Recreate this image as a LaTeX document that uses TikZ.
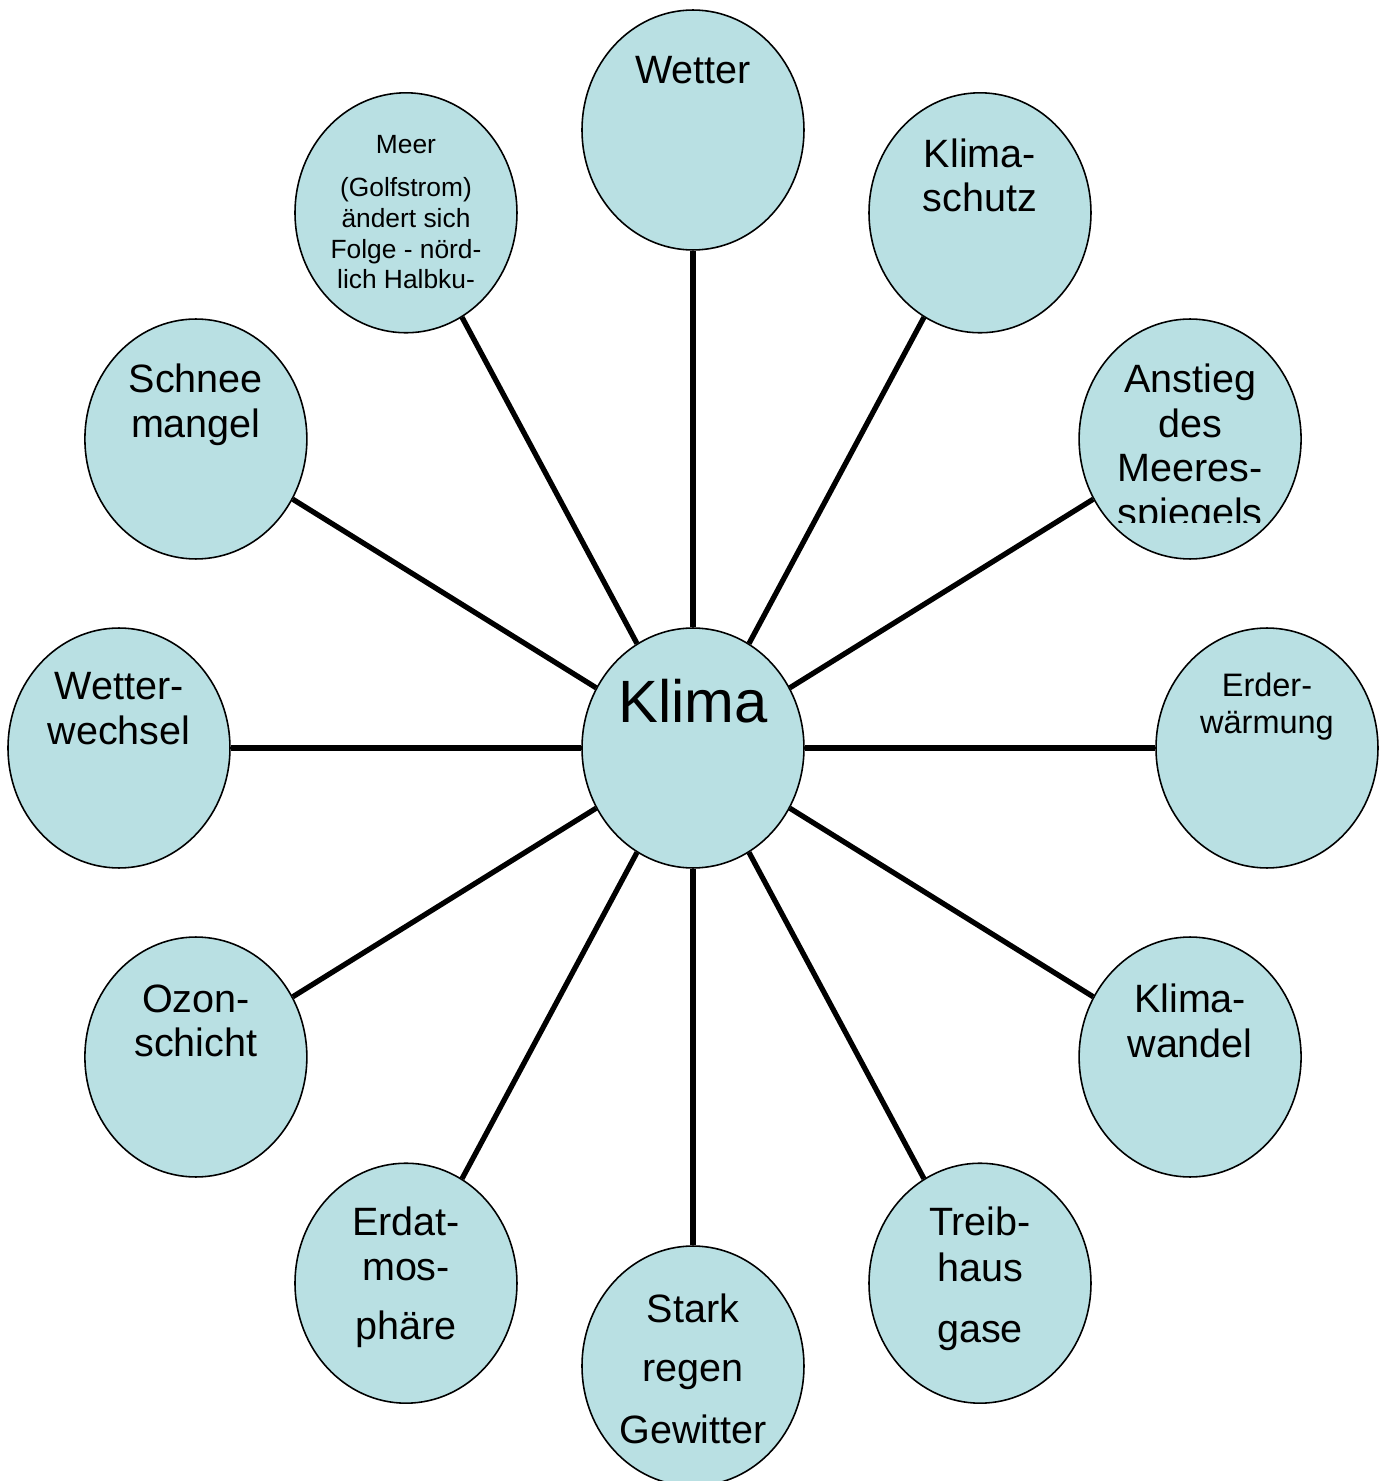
\documentclass[tikz,border=0pt]{standalone}
\usepackage{fontspec}
\setmainfont{Liberation Sans}
\usetikzlibrary{positioning}
\usetikzlibrary{shapes.geometric}
\usepackage{xcolor}
\definecolor{bubble}{RGB}{185,224,227}
\pgfkeys{tikz/mybubble/.style={ellipse,draw,line width=0.9pt,fill=bubble,minimum width=4.44cm,minimum height=4.8cm,inner sep=0pt}}
\pgfkeys{tikz/mytext/.style={align=center,inner sep=0pt,font=\fontsize{22.5}{25.5}\selectfont}}
\pgfkeys{tikz/myspoke/.style={line width=3pt}}

\begin{document}
\begin{tikzpicture}[x=0.02cm,y=0.02cm]
	\useasboundingbox (-693,-733) rectangle (693,748);

	\node [mybubble] (klima) at (0,0) {};
	\node [mytext, font=\fontsize{34}{39}\selectfont, below=1.04cm of klima.north] (klimaT) {Klima};

	\node [mybubble] (wetter) at (90:574 and 618) {};
	\node [mytext, below=0.94cm of wetter.north] (wetterT) {Wetter};

	\node [mybubble] (schutz) at (60:574 and 618) {};
	\node [mytext, below=0.92cm of schutz.north] (schutzT) {Klima-\\schutz};

	\node [mybubble] (anstieg) at (30:574 and 618) {};
	\begin{scope}
		\clip (anstieg.north west) rectangle ([yshift=-1.68cm]anstieg.east);
		\node [mytext, below=0.9cm of anstieg.north] (anstiegT) {Anstieg\\des\\Meeres-\\spiegels};
	\end{scope}

	\node [mybubble] (erder) at (0:574 and 618) {};
	\node [mytext, font=\fontsize{18.5}{21.5}\selectfont, below=0.9cm of erder.north] (erderT) {Erder-\\wärmung};

	\node [mybubble] (wandel) at (-30:574 and 618) {};
	\node [mytext, below=0.94cm of wandel.north] (wandelT) {Klima-\\wandel};

	\node [mybubble] (treib) at (-60:574 and 618) {};
	\node [mytext, below=0.88cm of treib.north] (treibT) {Treib-\\[1pt]haus\\[9pt]gase};

	\node [mybubble] (stark) at (-90:574 and 618) {};
	\node [mytext, below=0.96cm of stark.north] (starkT) {Stark\\[8.5pt]regen\\[9.5pt]Gewitter};

	\node [mybubble] (erdat) at (-120:574 and 618) {};
	\node [mytext, below=0.88cm of erdat.north] (erdatT) {Erdat-\\mos-\\[8pt]phäre};

	\node [mybubble] (ozon) at (-150:574 and 618) {};
	\node [mytext, below=0.96cm of ozon.north] (ozonT) {Ozon-\\schicht};

	\node [mybubble] (wechsel) at (180:574 and 618) {};
	\node [mytext, below=0.9cm of wechsel.north] (wechselT) {Wetter-\\wechsel};

	\node [mybubble] (schnee) at (150:574 and 618) {};
	\node [mytext, below=0.9cm of schnee.north] (schneeT) {Schnee\\mangel};

	\node [mybubble] (meer) at (120:574 and 618) {};
	\node [mytext, font=\fontsize{15}{17.5}\selectfont, below=0.86cm of meer.north] (meerT) {Meer\\[7pt](Golfstrom)\\ändert sich\\Folge - nörd-\\lich Halbku-};

	\draw[myspoke] (klima) -- (wetter);
	\draw[myspoke] (klima) -- (schutz);
	\draw[myspoke] (klima) -- (anstieg);
	\draw[myspoke] (klima) -- (erder);
	\draw[myspoke] (klima) -- (wandel);
	\draw[myspoke] (klima) -- (treib);
	\draw[myspoke] (klima) -- (stark);
	\draw[myspoke] (klima) -- (erdat);
	\draw[myspoke] (klima) -- (ozon);
	\draw[myspoke] (klima) -- (wechsel);
	\draw[myspoke] (klima) -- (schnee);
	\draw[myspoke] (klima) -- (meer);
\end{tikzpicture}
\end{document}
